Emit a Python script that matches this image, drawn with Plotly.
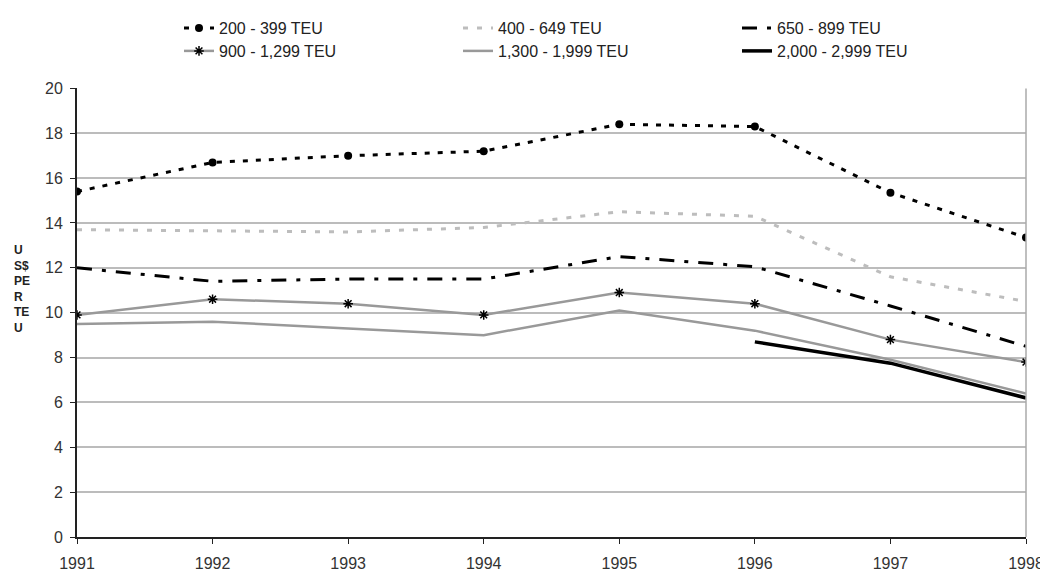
import plotly.graph_objects as go

years = [1991, 1992, 1993, 1994, 1995, 1996, 1997, 1998]
teu_200_399 = [15.4, 16.7, 17.0, 17.2, 18.4, 18.3, 15.35, 13.35]
teu_400_649 = [13.7, 13.65, 13.6, 13.8, 14.5, 14.3, 11.6, 10.5]
teu_650_899 = [12.0, 11.4, 11.5, 11.5, 12.5, 12.05, 10.3, 8.5]
teu_900_1299 = [9.9, 10.6, 10.4, 9.9, 10.9, 10.4, 8.8, 7.8]
teu_1300_1999 = [9.5, 9.6, 9.3, 9.0, 10.1, 9.2, 7.9, 6.4]
teu_2000_2999 = [None, None, None, None, None, 8.7, 7.75, 6.2]

y_ticks = [0, 2, 4, 6, 8, 10, 12, 14, 16, 18, 20]
y_title_lines = ["U", "S$", "PE", "R", "TE", "U"]

FONT = "Liberation Sans, Arial, sans-serif"
W, H = 1048, 576

fig = go.Figure()

fig.add_trace(go.Scatter(
    x=years, y=teu_200_399, name="200 - 399 TEU", mode="lines+markers",
    line=dict(color="black", width=3, dash="5px,8px"),
    marker=dict(symbol="circle", size=8, color="black"), legend="legend"))
fig.add_trace(go.Scatter(
    x=years, y=teu_400_649, name="400 - 649 TEU", mode="lines",
    line=dict(color="#bdbdbd", width=3, dash="5px,9px"), legend="legend"))
fig.add_trace(go.Scatter(
    x=years, y=teu_650_899, name="650 - 899 TEU", mode="lines",
    line=dict(color="black", width=3, dash="15px,10px,4px,10px"), legend="legend"))
fig.add_trace(go.Scatter(
    x=years, y=teu_900_1299, name="900 - 1,299 TEU", mode="lines+markers",
    line=dict(color="#999999", width=2.5),
    marker=dict(symbol="asterisk-open", size=8, color="black",
                line=dict(color="black", width=1.5)), legend="legend2"))
fig.add_trace(go.Scatter(
    x=years, y=teu_1300_1999, name="1,300 - 1,999 TEU", mode="lines",
    line=dict(color="#999999", width=2.5), legend="legend2"))
fig.add_trace(go.Scatter(
    x=years, y=teu_2000_2999, name="2,000 - 2,999 TEU", mode="lines",
    line=dict(color="black", width=3.5), connectgaps=False, legend="legend2"))

legend_common = dict(orientation="h", xref="container", yref="container",
                     xanchor="left", yanchor="middle", entrywidth=234,
                     font=dict(family=FONT, size=16, color="#222"),
                     bgcolor="rgba(0,0,0,0)", itemwidth=30, tracegroupgap=0)

fig.update_layout(
    width=W, height=H,
    margin=dict(l=69, r=22, t=76, b=34),
    paper_bgcolor="white", plot_bgcolor="white",
    font=dict(family=FONT, size=16, color="#333"),
    legend=dict(x=171 / W, y=1 - 20 / H, **legend_common),
    legend2=dict(x=171 / W, y=1 - 43 / H, **legend_common),
    xaxis=dict(range=[1991, 1998], tickmode="array", tickvals=years,
               ticktext=[str(y) for y in years], showgrid=False,
               showline=True, linecolor="#222", linewidth=2,
               ticks="outside", ticklen=5, tickcolor="#222",
               ticklabelstandoff=6, zeroline=False,
               tickfont=dict(family=FONT, size=16, color="#333")),
    yaxis=dict(range=[0, 20], tickmode="array", tickvals=y_ticks,
               showgrid=True, gridcolor="#bcbcbc", gridwidth=1.5,
               showline=True, linecolor="#222", linewidth=2,
               ticks="outside", ticklen=5, tickcolor="#222",
               ticklabelstandoff=4, zeroline=False,
               tickfont=dict(family=FONT, size=16, color="#333")),
)

# right border of the plot area
fig.add_shape(type="line", xref="paper", yref="paper", x0=1, x1=1, y0=0, y1=1,
              line=dict(color="#aaaaaa", width=1.5))

# stacked y-axis title
fig.add_annotation(text="<b>" + "<br>".join(y_title_lines) + "</b>",
                   xref="paper", yref="paper",
                   x=-66 / 957, y=1 - (284 - 76) / 466,
                   xanchor="left", yanchor="middle", align="left",
                   showarrow=False,
                   font=dict(family=FONT, size=12, color="#222"))

fig.write_html("out.html")
